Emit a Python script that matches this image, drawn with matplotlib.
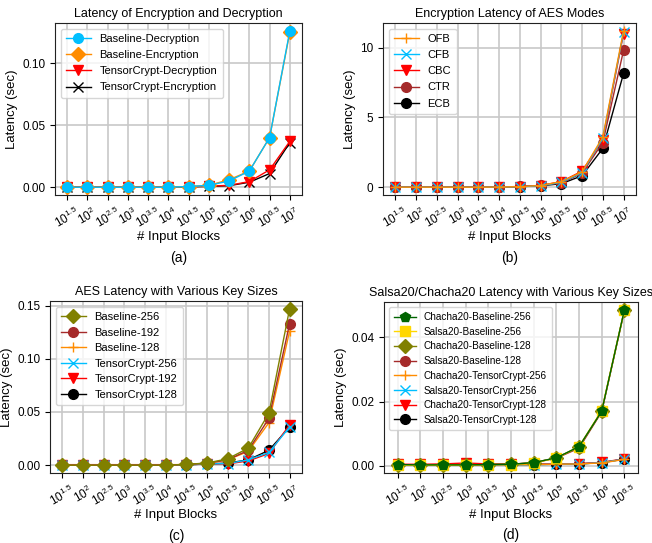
import matplotlib
matplotlib.use("Agg")
import matplotlib.pyplot as plt

plt.rcParams['font.family'] = ['Liberation Sans', 'DejaVu Sans']
plt.rcParams['mathtext.default'] = 'regular'

exps12 = ["1.5", "2", "2.5", "3", "3.5", "4", "4.5", "5", "5.5", "6", "6.5", "7"]
exps11 = exps12[:11]
labels12 = [r"$10^{%s}$" % e for e in exps12]
labels11 = [r"$10^{%s}$" % e for e in exps11]

# (a)
a_names = ["Baseline-Decryption", "Baseline-Encryption", "TensorCrypt-Decryption", "TensorCrypt-Encryption"]
a_vals = [
    [0.0, 0.0, 0.0, 0.0, 0.0, 0.0, 0.0005, 0.0015, 0.005, 0.013, 0.040, 0.126],
    [0.0, 0.0, 0.0, 0.0, 0.0, 0.0, 0.0005, 0.0015, 0.006, 0.013, 0.040, 0.125],
    [0.0003, 0.0003, 0.0003, 0.0003, 0.0003, 0.0003, 0.0003, 0.0008, 0.0015, 0.0045, 0.014, 0.037],
    [0.0, 0.0, 0.0, 0.0, 0.0, 0.0, 0.0003, 0.0006, 0.0012, 0.004, 0.011, 0.036],
]
a_colors = ["deepskyblue", "darkorange", "red", "black"]
a_markers = ["o", "D", "v", "x"]
a_yticks = [0.0, 0.05, 0.10]

# (b)
b_names = ["OFB", "CFB", "CBC", "CTR", "ECB"]
b_vals = [
    [0.0, 0.0, 0.0, 0.0, 0.0, 0.01, 0.04, 0.12, 0.40, 1.10, 3.60, 11.2],
    [0.0, 0.0, 0.0, 0.0, 0.0, 0.01, 0.03, 0.10, 0.35, 1.05, 3.50, 11.1],
    [0.0, 0.0, 0.0, 0.0, 0.0, 0.01, 0.04, 0.12, 0.40, 1.15, 3.40, 11.0],
    [0.0, 0.0, 0.0, 0.0, 0.0, 0.01, 0.05, 0.13, 0.30, 1.00, 3.20, 9.8],
    [0.0, 0.0, 0.0, 0.0, 0.0, 0.01, 0.04, 0.10, 0.25, 0.82, 2.78, 8.15],
]
b_colors = ["darkorange", "deepskyblue", "red", "brown", "black"]
b_markers = ["+", "x", "v", "o", "o"]
b_yticks = [0, 5, 10]

# (c)
c_names = ["Baseline-256", "Baseline-192", "Baseline-128", "TensorCrypt-256", "TensorCrypt-192", "TensorCrypt-128"]
c_vals = [
    [0.0, 0.0, 0.0, 0.0, 0.0, 0.0, 0.0008, 0.002, 0.006, 0.016, 0.049, 0.147],
    [0.0, 0.0, 0.0, 0.0, 0.0, 0.0, 0.0008, 0.0018, 0.005, 0.014, 0.044, 0.133],
    [0.0, 0.0, 0.0, 0.0, 0.0, 0.0, 0.0008, 0.0018, 0.005, 0.013, 0.040, 0.126],
    [0.0, 0.0, 0.0, 0.0, 0.0, 0.0, 0.0003, 0.0012, 0.0015, 0.005, 0.012, 0.036],
    [0.0005, 0.0005, 0.0005, 0.0005, 0.0005, 0.0005, 0.0005, 0.001, 0.0012, 0.004, 0.011, 0.038],
    [0.0, 0.0, 0.0, 0.0, 0.0, 0.0, 0.0003, 0.0012, 0.002, 0.005, 0.014, 0.036],
]
c_colors = ["olive", "brown", "darkorange", "deepskyblue", "red", "black"]
c_markers = ["D", "o", "+", "x", "v", "o"]
c_yticks = [0.0, 0.05, 0.10, 0.15]

# (d)
d_names = ["Chacha20-Baseline-256", "Salsa20-Baseline-256", "Chacha20-Baseline-128", "Salsa20-Baseline-128",
           "Chacha20-TensorCrypt-256", "Salsa20-TensorCrypt-256", "Chacha20-TensorCrypt-128", "Salsa20-TensorCrypt-128"]
d_vals = [
    [0.0004, 0.0003, 0.0003, 0.0003, 0.0004, 0.0005, 0.0010, 0.0025, 0.0060, 0.0170, 0.0485],
    [0.0002, 0.0002, 0.0002, 0.0002, 0.0004, 0.0004, 0.0009, 0.0024, 0.0060, 0.0172, 0.0485],
    [0.0004, 0.0003, 0.0003, 0.0003, 0.0004, 0.0005, 0.0010, 0.0025, 0.0058, 0.0170, 0.0483],
    [0.0004, 0.0003, 0.0003, 0.0003, 0.0004, 0.0005, 0.0010, 0.0024, 0.0055, 0.0168, 0.0483],
    [0.0003, 0.0003, 0.0003, 0.0003, 0.0004, 0.0004, 0.0004, 0.0005, 0.0006, 0.0009, 0.0020],
    [0.0003, 0.0003, 0.0003, 0.0003, 0.0004, 0.0004, 0.0004, 0.0005, 0.0006, 0.0010, 0.0021],
    [0.0005, 0.0005, 0.0006, 0.0009, 0.0006, 0.0006, 0.0006, 0.0006, 0.0007, 0.0011, 0.0022],
    [0.0003, 0.0003, 0.0003, 0.0003, 0.0004, 0.0004, 0.0004, 0.0005, 0.0006, 0.0010, 0.0021],
]
d_colors = ["darkgreen", "gold", "olive", "brown", "darkorange", "deepskyblue", "red", "black"]
d_markers = ["p", "s", "D", "o", "+", "x", "v", "o"]
d_yticks = [0.0, 0.02, 0.04]

fig = plt.figure(figsize=(6.52, 5.43), dpi=100)

panels = [
    ([55/652, 1-195/543, 247/652, 172/543], "Latency of Encryption and Decryption", a_names, a_vals, a_colors, a_markers, labels12, "(a)", a_yticks, "%.2f", 0.55, 8),
    ([383/652, 1-195/543, 253/652, 172/543], "Encryption Latency of AES Modes", b_names, b_vals, b_colors, b_markers, labels12, "(b)", b_yticks, "%d", 0.55, 8),
    ([50/652, 1-473/543, 252/652, 172/543], "AES Latency with Various Key Sizes", c_names, c_vals, c_colors, c_markers, labels12, "(c)", c_yticks, "%.2f", 0.5, 8),
    ([384/652, 1-473/543, 254/652, 171/543], "Salsa20/Chacha20 Latency with Various Key Sizes", d_names, d_vals, d_colors, d_markers, labels11, "(d)", d_yticks, "%.2f", 0.47, 7.2),
]

for rect, title, names, vals, colors, markers, xlabels, cap, yt, fmt, lsp, lfs in panels:
    ax = fig.add_axes(rect)
    n = len(names)
    xs = list(range(len(xlabels)))
    for i, (nm, v, c, m) in enumerate(zip(names, vals, colors, markers)):
        ax.plot(xs, v, color=c, marker=m, markersize=7, linewidth=1.0, label=nm,
                zorder=10 + n - i, markeredgewidth=1.0)
    ax.set_xticks(xs)
    ax.set_xticklabels(xlabels, rotation=30, fontsize=8.5)
    ax.set_yticks(yt)
    ax.set_yticklabels([fmt % t for t in yt], fontsize=8.5)
    ax.grid(True, color='#c8c8c8', linewidth=1.2)
    ax.set_axisbelow(True)
    for s in ax.spines.values():
        s.set_color('#222222')
    ax.set_title(title, fontsize=9, pad=4)
    ax.set_xlabel("# Input Blocks", fontsize=9.5, labelpad=0)
    ax.set_ylabel("Latency (sec)", fontsize=9.5, labelpad=3)
    ax.set_xlim(-0.6, len(xlabels) - 0.4)
    ax.legend(loc='upper left', fontsize=lfs, handlelength=2.2, labelspacing=lsp,
              borderpad=0.5, framealpha=0.8)
    ax.text(0.5, -0.365, cap, transform=ax.transAxes, ha='center', va='center', fontsize=10)

fig.savefig("out.png", dpi=100)
